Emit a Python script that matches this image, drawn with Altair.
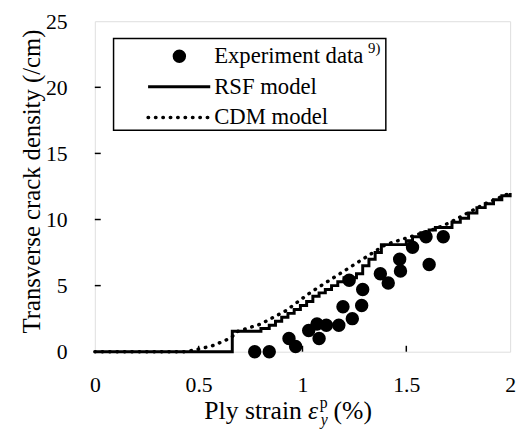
import altair as alt
import pandas as pd

# ---------------- data ----------------
exp_x = [0.77, 0.84, 0.935, 0.967, 1.03, 1.07, 1.08, 1.115, 1.175, 1.195, 1.225,
         1.24, 1.285, 1.29, 1.375, 1.413, 1.468, 1.472, 1.53, 1.595, 1.61, 1.678]
exp_y = [0.0, 0.0, 1.0, 0.4, 1.6, 2.1, 1.0, 2.0, 2.0, 3.4, 5.4,
         2.5, 3.5, 4.7, 5.9, 5.2, 7.0, 6.1, 7.9, 8.7, 6.6, 8.7]

rsf_x = [0.0, 0.662, 0.80, 0.84, 0.87, 0.90, 0.93, 0.96, 0.99, 1.02, 1.05, 1.08,
         1.11, 1.14, 1.17, 1.20, 1.26, 1.29, 1.32, 1.35, 1.38, 1.50, 1.53, 1.57,
         1.61, 1.64, 1.72, 1.76, 1.80, 1.84, 1.88, 1.92, 1.96, 2.0]
rsf_y = [0.0, 1.55, 1.75, 2.0, 2.3, 2.6, 2.9, 3.2, 3.5, 3.8, 4.2, 4.45,
         4.7, 5.0, 5.3, 5.6, 5.9, 6.5, 7.0, 7.5, 8.1, 8.4, 8.7, 9.0,
         9.2, 9.4, 9.8, 10.1, 10.5, 10.9, 11.2, 11.5, 11.8, 12.0]

cdm_x = [0.0, 0.44, 0.47, 0.52, 0.57, 0.63, 0.66, 0.68, 0.74, 0.80, 0.86, 0.92,
         0.98, 1.04, 1.10, 1.16, 1.22, 1.28, 1.34, 1.40, 1.46, 1.52, 1.58, 1.64,
         1.70, 1.76, 1.82, 1.88, 1.94, 2.0]
cdm_y = [0.0, 0.0, 0.1, 0.27, 0.47, 0.87, 1.1, 1.5, 1.8, 2.1, 2.6, 3.1,
         3.8, 4.5, 5.1, 5.7, 6.3, 6.9, 7.5, 8.1, 8.4, 8.7, 9.0, 9.3,
         9.7, 10.2, 10.7, 11.2, 11.6, 12.0]

x_ticks = [0, 0.5, 1, 1.5, 2]
y_ticks = [0, 5, 10, 15, 20, 25]
legend_labels = ["Experiment data", "RSF model", "CDM model"]
legend_ref = "9)"
x_title_parts = ["Ply strain", "ε", "p", "y", "(%)"]
y_title = "Transverse crack density  (/cm)"

# ---------------- layout / style ----------------
W, H = 421, 335
FONT = "Liberation Serif, Times New Roman, DejaVu Serif, serif"
LBL = 22
TTL = 26
LEG = 23

xs = alt.Scale(domain=[0, 2], nice=False, zero=False)
ys = alt.Scale(domain=[0, 25], nice=False, zero=False)

x_axis = alt.Axis(values=x_ticks, format="~g", ticks=False, domain=False, grid=False,
                  title=None, labelFont=FONT, labelFontSize=LBL, labelColor="black",
                  labelPadding=23, labelFlush=False)
y_axis = alt.Axis(values=y_ticks, format="d", ticks=False, domain=False, grid=False,
                  title=y_title, labelFont=FONT, labelFontSize=LBL, labelColor="black",
                  labelPadding=28, titleFont=FONT, titleFontSize=25, titleColor="black",
                  titleFontWeight="normal", titleAngle=270, titleAlign="center",
                  titleBaseline="middle", titleX=-64, titleY=162)

X = alt.X("x:Q", scale=xs, axis=x_axis)
Y = alt.Y("y:Q", scale=ys, axis=y_axis)

exp_df = pd.DataFrame({"x": exp_x, "y": exp_y})
rsf_df = pd.DataFrame({"x": rsf_x, "y": rsf_y})
cdm_df = pd.DataFrame({"x": cdm_x, "y": cdm_y})
xt_df = pd.DataFrame({"x": x_ticks[1:-1]})
yt_df = pd.DataFrame({"y": y_ticks[1:-1]})
one = pd.DataFrame({"k": [0]})

rsf = alt.Chart(rsf_df).mark_line(interpolate="step-after", color="black",
                                   strokeWidth=3).encode(x=X, y=Y)
cdm = alt.Chart(cdm_df).mark_line(color="black", strokeWidth=3.5, strokeDash=[0.5, 7],
                                   strokeCap="round").encode(x=X, y=Y)
pts = alt.Chart(exp_df).mark_circle(color="black", opacity=1, size=185).encode(x=X, y=Y)

xt = alt.Chart(xt_df).mark_rule(color="black", strokeWidth=1.5).encode(
    x=X, y=alt.value(H), y2=alt.value(H - 6))
yt = alt.Chart(yt_df).mark_rule(color="black", strokeWidth=1.5).encode(
    y=Y, x=alt.value(0), x2=alt.value(6))

# legend
leg_box = alt.Chart(one).mark_rect(fill="white", stroke="black", strokeWidth=1.5).encode(
    x=alt.value(19), x2=alt.value(295), y=alt.value(17.5), y2=alt.value(110.5))
leg_pt = alt.Chart(one).mark_circle(color="black", opacity=1, size=185).encode(
    x=alt.value(85.7), y=alt.value(35.5))
leg_rsf = alt.Chart(one).mark_rule(color="black", strokeWidth=3).encode(
    x=alt.value(54), x2=alt.value(117), y=alt.value(66.5))
leg_cdm = alt.Chart(one).mark_rule(color="black", strokeWidth=3.5, strokeDash=[0.5, 7],
                                   strokeCap="round").encode(
    x=alt.value(54), x2=alt.value(116), y=alt.value(97.5))


def txt(s, x, y, size, style="normal", baseline="middle"):
    return alt.Chart(one).mark_text(align="left", baseline=baseline, font=FONT,
                                    fontSize=size, fontStyle=style, color="black").encode(
        x=alt.value(x), y=alt.value(y), text=alt.value(s))


leg_t1 = txt(legend_labels[0], 121, 35.5, LEG)
leg_sup = txt(legend_ref, 277, 27, 15)
leg_t2 = txt(legend_labels[1], 121, 66.5, LEG)
leg_t3 = txt(legend_labels[2], 121, 97.5, LEG)

# x title with super/subscript
base_y = 403
xt1 = txt(x_title_parts[0], 111, base_y, TTL, baseline="alphabetic")
xt2 = txt(x_title_parts[1], 216, base_y, TTL, style="italic", baseline="alphabetic")
xt3 = txt(x_title_parts[2], 228, base_y - 11, 16, baseline="alphabetic")
xt4 = txt(x_title_parts[3], 229, base_y + 6, 16, style="italic", baseline="alphabetic")
xt5 = txt(x_title_parts[4], 242, base_y, TTL, baseline="alphabetic")

chart = alt.layer(
    rsf, cdm, pts, xt, yt,
    leg_box, leg_pt, leg_rsf, leg_cdm, leg_t1, leg_sup, leg_t2, leg_t3,
    xt1, xt2, xt3, xt4, xt5,
).properties(
    width=W, height=H,
    autosize="none",
    padding={"left": 88, "top": 10.5, "right": 10, "bottom": 80},
).configure_view(stroke="black", strokeWidth=2).configure(background="white")

chart.save("out.html", embed_options={"renderer": "svg", "actions": False})
